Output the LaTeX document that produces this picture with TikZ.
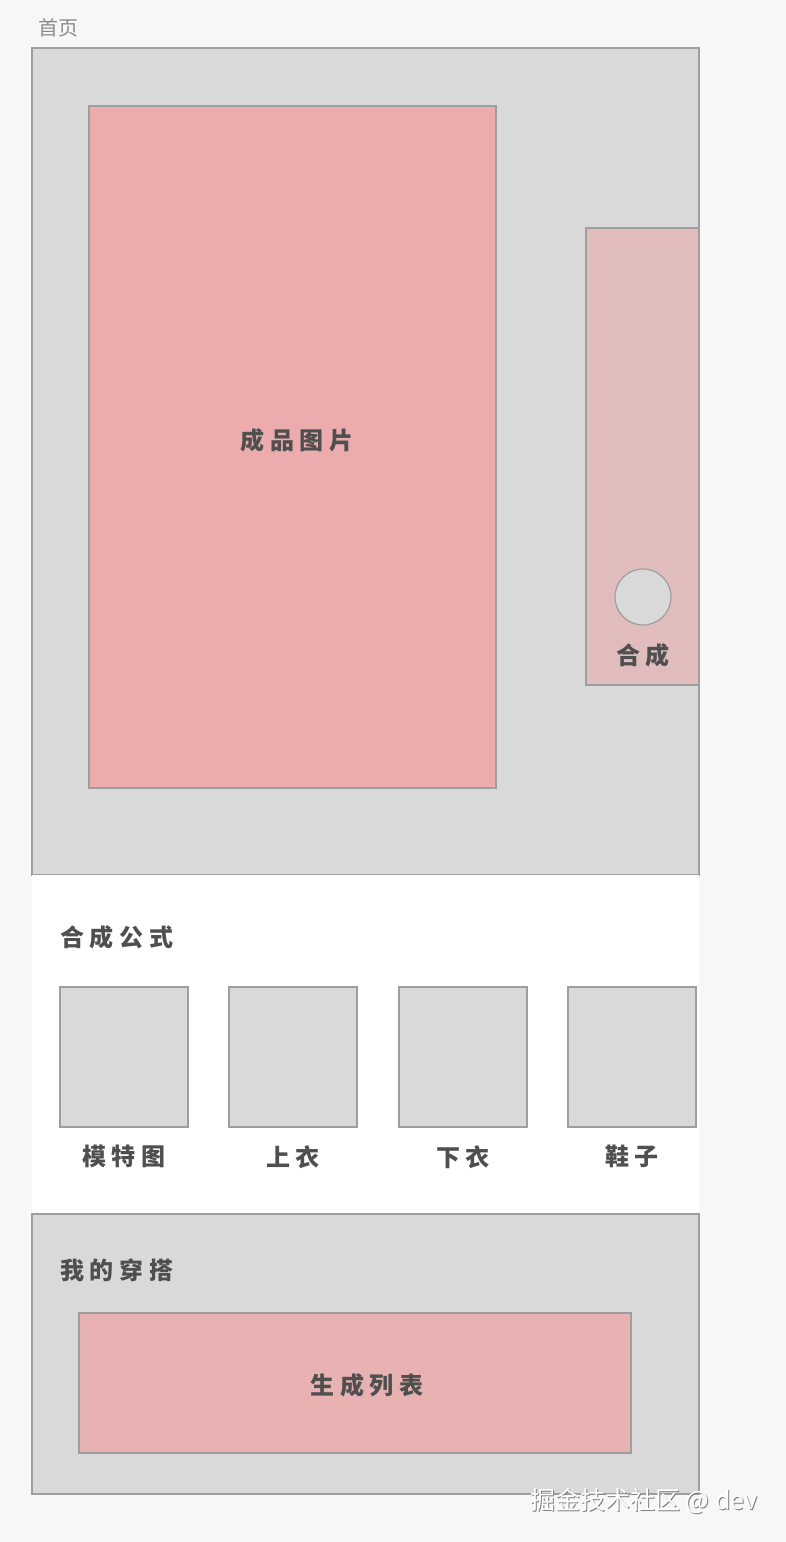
\documentclass[tikz,border=0pt]{standalone}
\usepackage{fontspec}
\usepackage{tikz}
\usetikzlibrary{positioning}
\newfontfamily\cjk{Noto Sans CJK SC}
\newfontfamily\cjkspaced[LetterSpace=24]{Noto Sans CJK SC}
\definecolor{pagebg}{HTML}{F7F7F7}
\definecolor{panelgray}{HTML}{D9D9D9}
\definecolor{linegray}{HTML}{9E9E9E}
\definecolor{bigpink}{HTML}{ECACAE}
\definecolor{strippink}{HTML}{E0BCBD}
\definecolor{listpink}{HTML}{E8B1B2}
\definecolor{labelgray}{HTML}{4F4F4F}
\definecolor{titlegray}{HTML}{8C8C8C}

\begin{document}
\begin{tikzpicture}[x=1pt, y=-1pt,
    boxnode/.style={rectangle, draw=linegray, line width=1.2pt, inner sep=0pt, outer sep=0pt, anchor=north west},
    panelnode/.style={boxnode, fill=panelgray},
    pinknode/.style={boxnode, fill=bigpink},
    itemnode/.style={boxnode, fill=panelgray, minimum width=128, minimum height=140},
    labelnode/.style={text=labelgray, font=\fontsize{24}{28}\selectfont\cjkspaced\bfseries, inner sep=0pt},
    headnode/.style={labelnode, anchor=west},
    node distance=18pt
   ]
   \fill[pagebg] (0,0) rectangle (786,1542);
   \useasboundingbox (0,0) rectangle (786,1542);

   % page title
   \node[text=titlegray, font=\fontsize{20}{24}\selectfont\cjk, anchor=west, inner sep=0pt] (title) at (38,28) {首页};

   % top panel
   \node[panelnode, minimum width=667, minimum height=827] (toppanel) at (32,48) {};
   \node[pinknode, minimum width=407, minimum height=682] (picture) at (89,106) {};
   \node[labelnode] (picturelabel) at (297,440) {成品图片};
   \node[boxnode, fill=strippink, minimum width=113, minimum height=457] (strip) at (586,228) {};
   \node[circle, draw=linegray, line width=1.2pt, fill=panelgray, minimum size=56, inner sep=0pt] (mergebtn) at (643,597) {};
   \node[labelnode] (mergelabel) [below=of mergebtn] {合成};

   % formula section
   \node[boxnode, draw=none, fill=white, minimum width=667, minimum height=339] (formula) at (32,875) {};
   \node[headnode] (formulahead) at (60,937) {合成公式};
   \foreach \name/\txt/\xx in {model/模特图/60, upper/上衣/229, lower/下衣/399, shoes/鞋子/568}{
     \node[itemnode] (\name) at (\xx,987) {};
     \node[labelnode] (\name label) [below=of \name] {\txt};
   }

   % outfit section
   \node[panelnode, minimum width=667, minimum height=280] (outfit) at (32,1214) {};
   \node[headnode] (outfithead) at (60,1270) {我的穿搭};
   \node[boxnode, fill=listpink, minimum width=552, minimum height=140] (genlist) at (79,1313) {};
   \node[labelnode] (genlistlabel) at (367,1385) {生成列表};

   % watermark
   \node[text=gray, font=\fontsize{25}{30}\selectfont\cjk, anchor=west, inner sep=0pt] (markshadow) at (531,1502) {掘金技术社区 @ dev};
   \node[text=white, font=\fontsize{25}{30}\selectfont\cjk, anchor=west, inner sep=0pt] (mark) at (530,1501) {掘金技术社区 @ dev};
\end{tikzpicture}
\end{document}
